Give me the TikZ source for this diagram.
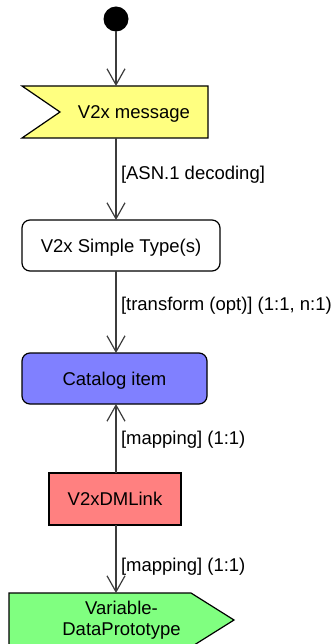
\documentclass[tikz,border=0pt]{standalone}
\usepackage{fontspec}
\setmainfont{Liberation Sans}
\usetikzlibrary{arrows.meta,backgrounds}
\definecolor{msgyellow}{RGB}{255,255,128}
\definecolor{catblue}{RGB}{128,128,255}
\definecolor{linkred}{RGB}{255,128,128}
\definecolor{vdpgreen}{RGB}{128,255,128}
\definecolor{connc}{RGB}{60,60,60}
\begin{document}
\begin{tikzpicture}[x=1pt,y=-1pt,
  font=\fontsize{18.5}{21.3}\selectfont,
  every node/.style={inner sep=0pt, outer sep=0pt},
  boxtext/.style={text height=13.3pt, text depth=0pt},
  border/.style={draw=black, line width=1.2pt},
  conn/.style={draw=connc, line width=1.2pt, -{Straight Barb[length=16pt, width=18pt, line width=1.2pt]}},
  lbl/.style={anchor=base west, text=black}
]
\useasboundingbox (0,0) rectangle (335,644);

% start
\node[circle, fill=black, minimum size=25pt] (start) at (116,19) {};

% V2x message (flag with notch)
\node[boxtext, minimum width=148pt, minimum height=52pt] (msg) at (134,112) {V2x message};
\begin{scope}[on background layer]
\filldraw[border, fill=msgyellow] ([xshift=-38pt]msg.north west) -- (msg.north east) -- (msg.south east) -- ([xshift=-38pt]msg.south west) -- (msg.west) -- cycle;
\end{scope}

% V2x Simple Type(s)
\node[border, fill=white, rounded corners=8pt, boxtext, minimum width=198pt, minimum height=51pt] (simple) at (121,245.5) {V2x Simple Type(s)};

% Catalog item
\node[border, fill=catblue, rounded corners=8pt, boxtext, minimum width=185pt, minimum height=51pt] (cat) at (114.5,378.5) {Catalog item};

% V2xDMLink
\node[border, fill=linkred, boxtext, minimum width=132pt, minimum height=52pt] (link) at (115,499) {V2xDMLink};

% VariableDataPrototype (pentagon arrow shape)
\node[align=center, minimum width=225pt, minimum height=54pt] (vdp) at (121.5,620) {Variable-\\DataPrototype};
\begin{scope}[on background layer]
\filldraw[border, fill=vdpgreen] (vdp.north west) -- ([xshift=-43pt]vdp.north east) -- (vdp.east) -- ([xshift=-43pt]vdp.south east) -- (vdp.south west) -- cycle;
\end{scope}

% connectors
\draw[conn] (start) -- (start |- msg.north);
\draw[conn] (msg.south -| start) -- (simple.north -| start);
\draw[conn] (simple.south -| start) -- (cat.north -| start);
\draw[conn] (link.north -| start) -- (cat.south -| start);
\draw[conn] (link.south -| start) -- (vdp.north -| start);

% labels
\node[lbl] (l1) at (121,179.3) {[ASN.1 decoding]};
\node[lbl] (l2) at (121,310.5) {[transform (opt)] (1:1, n:1)};
\node[lbl] (l3) at (121,444.5) {[mapping] (1:1)};
\node[lbl] (l4) at (121,571) {[mapping] (1:1)};
\end{tikzpicture}
\end{document}
